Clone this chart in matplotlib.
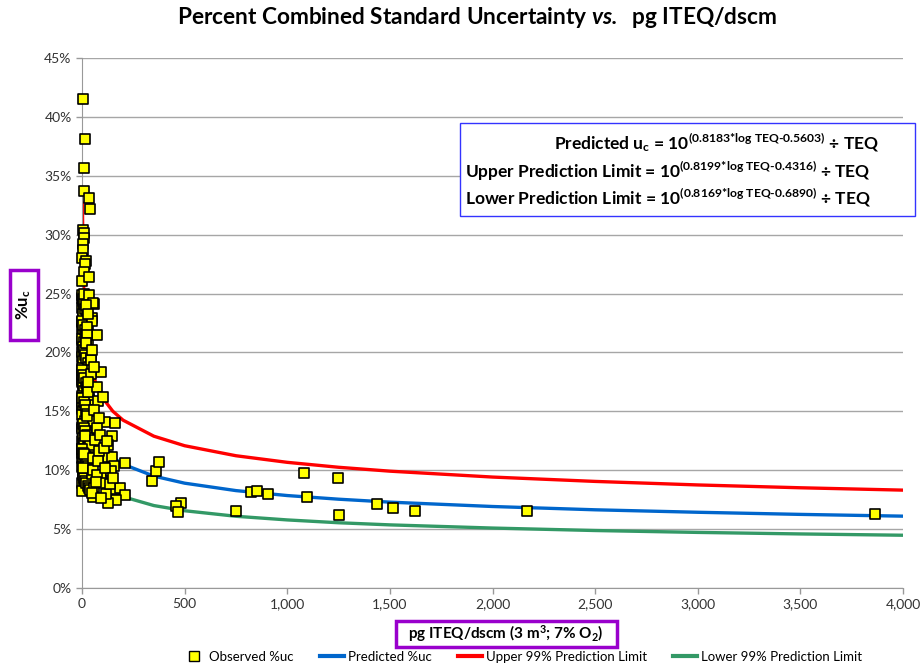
import matplotlib
matplotlib.use("Agg")
import matplotlib.pyplot as plt
from matplotlib.ticker import FuncFormatter, PercentFormatter
from matplotlib.patches import Rectangle
from matplotlib.lines import Line2D

plt.rcParams['font.family'] = ['Lato', 'DejaVu Sans']
plt.rcParams['mathtext.fontset'] = 'custom'
plt.rcParams['mathtext.rm'] = 'Lato:bold'
plt.rcParams['mathtext.bf'] = 'Lato:bold'
plt.rcParams['mathtext.it'] = 'Lato:italic'
plt.rcParams['mathtext.bfit'] = 'Lato:bold:italic'

## observed points (pg ITEQ/dscm, %uc)
obs_x = [6, 16, 8, 10, 34, 39, 3, 12, 10, 6, 4, 1, 19, 16, 10, 2, 10, 34, 60, 55,
         18, 47, 50, 23, 75, 23, 20, 18, 42, 44, 93, 42, 71, 28, 76, 60, 112, 161, 75, 148,
         128, 125, 148, 156, 210, 52, 93, 75, 60, 120, 161, 185, 210, 164, 128, 55, 47, 117, 100, 85,
         65, 90, 105, 80, 140, 70, 110, 95, 135, 150, 85, 100, 120, 60, 50, 35, 27]
obs_y = [41.5, 38.1, 35.7, 33.7, 33.1, 32.2, 30.4, 30.1, 29.7, 29.2, 28.7, 28.0, 27.8, 27.5, 26.8, 26.1, 25.0, 24.9, 24.1, 24.2,
         24.0, 22.9, 22.7, 22.2, 21.5, 21.5, 20.8, 20.8, 19.5, 19.4, 18.3, 18.2, 17.1, 17.5, 15.9, 15.1, 14.1, 14.0, 13.6, 12.9,
         12.1, 11.15, 11.1, 10.4, 10.6, 10.0, 9.45, 9.6, 8.5, 8.3, 8.4, 8.5, 7.9, 7.5, 7.2, 7.75, 8.05, 8.0, 8.9, 11.6,
         12.6, 13.0, 11.9, 10.8, 9.9, 9.0, 10.2, 7.6, 8.8, 9.3, 14.4, 16.2, 12.5, 18.8, 20.2, 26.4, 23.3]

# dense column right next to the axis
col_x = [2, 5, 1, 8, 3, 12, 4, 1, 9, 6, 2, 15, 3, 7, 1, 11, 4, 18, 2, 6,
         1, 13, 3, 9, 22, 2, 5, 1, 16, 7, 3, 25, 1, 10, 4, 20, 2, 8, 30, 5,
         14, 1, 26, 6, 18, 3, 34, 11, 24, 15, 38, 28, 22, 31, 26, 35, 40, 44, 32, 45,
         20, 30, 36, 42,
         0, 3, 7, 1, 12, 5, 0, 9, 2, 14, 4, 0, 8, 19, 1, 6, 11, 0, 3, 17,
         2, 7, 0, 13, 5, 1, 21, 4, 9, 0, 2, 15, 6, 0, 27, 3, 10, 1, 8, 0,
         4, 10, 16, 22, 28, 1, 7, 13, 19, 25, 31, 3, 9, 15, 21, 27, 33, 0, 6, 12,
         18, 24, 30, 36, 2, 8, 14, 20, 26, 32, 38, 5, 11, 17, 23, 29, 35, 41, 1, 7,
         13, 19, 25, 31, 37, 43, 3, 9, 15, 21, 27, 33, 39, 48, 4, 10, 16, 22, 28, 52]
col_y = [24.6, 24.2, 23.8, 23.5, 23.1, 22.8, 22.4, 22.0, 21.7, 21.3, 21.0, 20.6, 20.3, 19.9, 19.6, 19.2, 18.9, 18.6, 18.2, 17.9,
         17.5, 17.2, 16.9, 16.5, 16.2, 15.9, 15.6, 15.2, 14.9, 14.6, 14.3, 14.0, 13.7, 13.4, 13.1, 12.8, 12.5, 12.2, 11.9, 11.6,
         11.3, 11.0, 10.7, 10.4, 10.1, 9.8, 9.5, 9.2, 8.9, 8.6, 8.4, 22.0, 19.0, 17.6, 15.5, 13.2, 12.0, 10.9, 9.9, 9.0,
         23.9, 20.1, 16.0, 14.4,
         24.9, 24.4, 23.3, 22.6, 22.2, 21.8, 21.1, 20.9, 20.0, 19.7, 19.3, 18.7, 18.4, 18.0, 17.7, 17.3, 16.7, 16.3, 16.1, 15.7,
         15.4, 15.0, 14.7, 14.2, 13.9, 13.5, 13.0, 12.7, 12.3, 11.8, 11.5, 11.1, 10.8, 10.3, 10.0, 9.6, 9.3, 8.9, 8.7, 8.2,
         24.5, 24.1, 23.7, 23.4, 23.0, 22.7, 22.3, 21.9, 21.6, 21.2, 20.9, 20.5, 20.2, 19.8, 19.5, 19.1, 18.8, 18.5, 18.1, 17.8,
         17.4, 17.1, 16.8, 16.4, 16.1, 15.8, 15.5, 15.1, 14.8, 14.5, 14.2, 13.9, 13.6, 13.3, 13.0, 12.7, 12.4, 12.1, 11.8, 11.5,
         11.2, 10.9, 10.6, 10.4, 10.1, 9.8, 9.6, 9.3, 9.1, 8.9, 8.7, 8.5, 8.3, 9.7, 10.2, 11.4, 12.9, 14.6, 16.6, 11.0]

# sparse points at higher TEQ
far_x = [343, 359, 377, 481, 457, 469, 750, 823, 853, 906, 1082, 1096, 1247, 1250, 1437, 1515, 1622, 2170, 3863]
far_y = [9.06, 9.96, 10.72, 7.25, 6.99, 6.43, 6.54, 8.15, 8.23, 7.98, 9.76, 7.72, 9.34, 6.2, 7.13, 6.79, 6.54, 6.54, 6.28]

## fitted curves
curve_x = [2, 5, 10, 20, 40, 70, 100, 150, 200, 350, 500, 750, 1000, 1250, 1500, 2000, 2500, 3000, 3500, 4000]
pred_y = [24.27, 20.55, 18.12, 15.97, 14.08, 12.72, 11.92, 11.08, 10.51, 9.50, 8.90, 8.27, 7.85, 7.54, 7.29, 6.92, 6.64, 6.43, 6.25, 6.10]
upper_y = [32.67, 27.69, 24.45, 21.58, 19.05, 17.22, 16.15, 15.01, 14.25, 12.89, 12.08, 11.23, 10.67, 10.25, 9.92, 9.42, 9.05, 8.75, 8.51, 8.31]
lower_y = [18.02, 15.24, 13.42, 11.82, 10.41, 9.40, 8.80, 8.18, 7.75, 7.00, 6.56, 6.09, 5.78, 5.54, 5.36, 5.09, 4.88, 4.72, 4.59, 4.48]

c_pred = '#0066CC'
c_up = '#FF0000'
c_low = '#339966'
purple = '#9900CC'

W, H = 924, 666
fig = plt.figure(figsize=(W/100, H/100), dpi=100)
ax = fig.add_axes([82/W, 78/H, 821/W, 530/H])

ax.plot(curve_x, pred_y, color=c_pred, lw=2.4, zorder=2)
ax.plot(curve_x, upper_y, color=c_up, lw=2.4, zorder=2)
ax.plot(curve_x, lower_y, color=c_low, lw=2.4, zorder=2)

sx = col_x + obs_x + far_x
sy = col_y + obs_y + far_y
ax.scatter(sx, sy, marker='s', s=60, facecolor='#FFFF00', edgecolor='black', linewidth=1.2,
           zorder=3, clip_on=False)

ax.set_xlim(0, 4000)
ax.set_ylim(0, 45)
ax.set_xticks(range(0, 4001, 500))
ax.set_yticks(range(0, 46, 5))
ax.xaxis.set_major_formatter(FuncFormatter(lambda v, p: f'{int(v):,}'))
ax.yaxis.set_major_formatter(PercentFormatter(decimals=0))
ax.tick_params(labelsize=10, labelcolor='#333333', length=4, width=1, color='#999999')
ax.grid(axis='y', color='#A6A6A6', lw=1)
ax.set_axisbelow(True)
for s in ['top', 'right']:
    ax.spines[s].set_visible(False)
for s in ['left', 'bottom']:
    ax.spines[s].set_color('#999999')


def fig_box(x0, y0, x1, y1, ec, lw):
    # box given in pixel coords from the top-left corner
    fig.patches.append(Rectangle((x0/W, 1 - y1/H), (x1 - x0)/W, (y1 - y0)/H,
                                 transform=fig.transFigure, fc='white', ec=ec, lw=lw, zorder=5))


fig.text(477/W, 1 - 18/H, r'Percent Combined Standard Uncertainty $\mathbfit{vs.}$  pg ITEQ/dscm',
         ha='center', va='center', fontsize=16.3, fontweight='bold')

fig_box(10, 270, 38, 340, purple, 2.5)
fig.text(24/W, 1 - 305/H, r'%u$_\mathbf{c}$', rotation=90, ha='center', va='center',
         fontsize=12, fontweight='bold', zorder=6)
fig_box(396, 621, 617, 647, purple, 2.5)
fig.text(506/W, 1 - 634/H, r'pg ITEQ/dscm (3 m$^\mathbf{3}$; 7% O$_\mathbf{2}$)', ha='center', va='center',
         fontsize=11, fontweight='bold', zorder=6)

fig_box(460, 123, 915, 216, '#3333FF', 1)
fig.text(880/W, 1 - 143/H, r'Predicted u$_\mathbf{c}$ = 10$^{\text{(0.8183*log TEQ-0.5603)}}$ ÷ TEQ',
         ha='right', va='center', fontsize=12.5, fontweight='bold', zorder=6)
fig.text(465/W, 1 - 171/H, r'Upper Prediction Limit = 10$^{\text{(0.8199*log TEQ-0.4316)}}$ ÷ TEQ',
         ha='left', va='center', fontsize=12.5, fontweight='bold', zorder=6)
fig.text(465/W, 1 - 198/H, r'Lower Prediction Limit = 10$^{\text{(0.8169*log TEQ-0.6890)}}$ ÷ TEQ',
         ha='left', va='center', fontsize=12.5, fontweight='bold', zorder=6)

handles = [Line2D([], [], ls='none', marker='s', ms=7, mfc='#FFFF00', mec='black'),
           Line2D([], [], color=c_pred, lw=3),
           Line2D([], [], color=c_up, lw=3),
           Line2D([], [], color=c_low, lw=3)]
labels = ['Observed %uc', 'Predicted %uc', 'Upper 99% Prediction Limit', 'Lower 99% Prediction Limit']
fig.legend(handles, labels, loc='center', bbox_to_anchor=(522/W, 1 - 657/H), ncol=4,
           frameon=False, fontsize=9.5, handlelength=1.8, columnspacing=2.0, handletextpad=0.3)

fig.savefig('out.png', dpi=100)
